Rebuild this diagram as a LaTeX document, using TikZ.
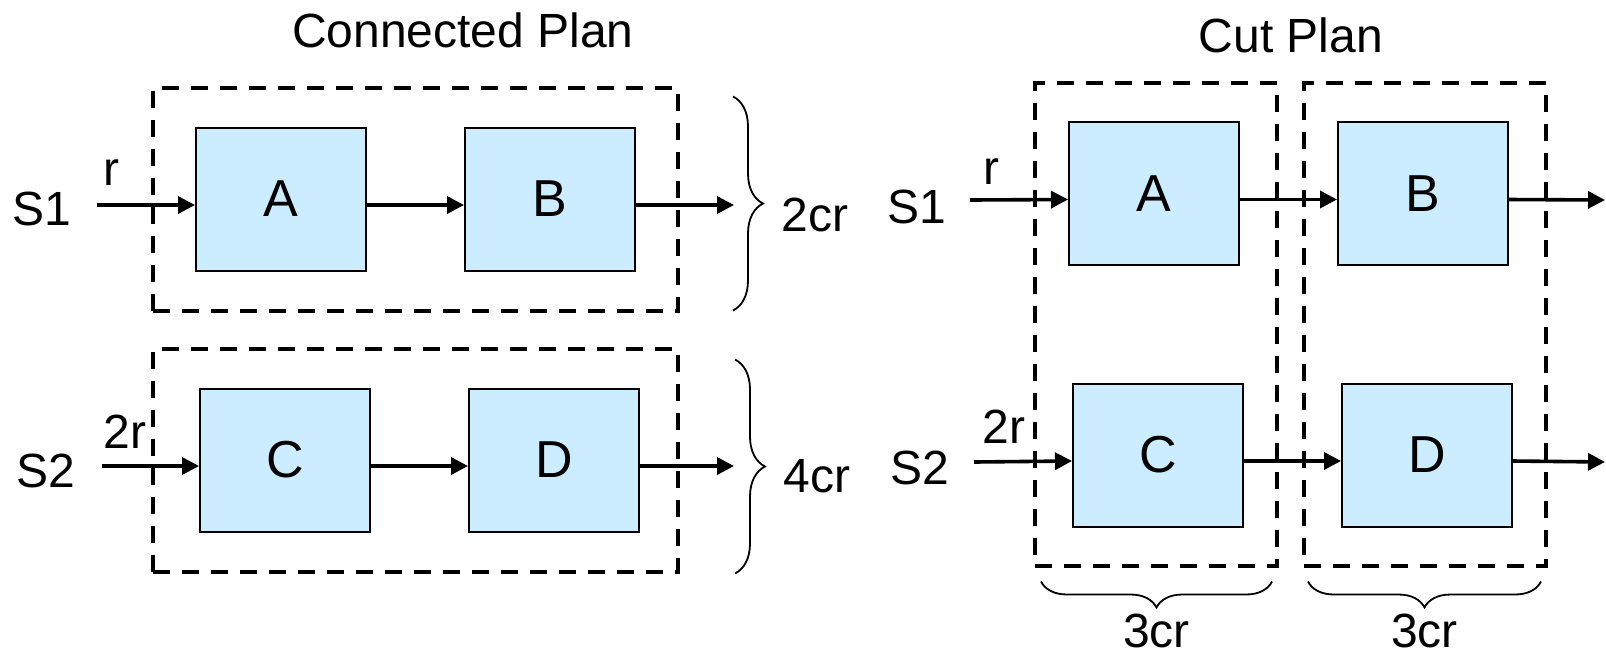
\documentclass[tikz,border=0pt]{standalone}
\usepackage{fontspec}
\setmainfont{Liberation Sans}
\usetikzlibrary{positioning, arrows.meta, fit, decorations.pathreplacing}

\definecolor{boxblue}{RGB}{204,236,255}

\begin{document}
\begin{tikzpicture}[x=0.5pt, y=-0.5pt, >={Triangle[length=8.5pt, width=8.5pt]},
	stage/.style={draw, fill=boxblue, line width=1pt, minimum width=85pt, minimum height=71.5pt, font=\fontsize{26}{31}\selectfont},
	plan/.style={draw, line width=2pt, dash pattern=on 8.5pt off 6pt},
	flow/.style={->, line width=1.8pt},
	lbl/.style={font=\fontsize{24}{29}\selectfont, inner sep=2pt},
	brc/.style={decorate, decoration={brace, amplitude=15pt}, line width=0.9pt}]
	
	\useasboundingbox (0,0) rectangle (1606,660);
	
	% Connected plan
	\node [lbl] (title1) at (463,30) {Connected Plan};
	\node [stage] (A1) at (281,199) {A};
	\node [stage] (B1) at (550,199) {B};
	\node [stage] (C1) at (285,460) {C};
	\node [stage] (D1) at (554,460) {D};
	\node [plan, fit=(A1)(B1), inner xsep=21pt, inner ysep=19.5pt] (conn1) {};
	\node [plan, fit=(C1)(D1), inner xsep=21pt, inner ysep=19.5pt, xshift=-2pt] (conn2) {};
	
	\node [lbl] (S1) at (42,209) {S1};
	\node [lbl] (S2) at (46,471) {S2};
	\node [lbl] (r1) at (111,173) {r};
	\node [lbl] (r2) at (125,432) {2r};
	\coordinate (in1) at (97,205);
	\coordinate (in2) at (102,466);
	\coordinate (out1) at (734,205);
	\coordinate (out2) at (734,466);
	
	\draw[flow] (in1) -- ([yshift=-3pt]A1.west);
	\draw[flow] ([yshift=-3pt]A1.east) -- ([yshift=-3pt]B1.west);
	\draw[flow] ([yshift=-3pt]B1.east) -- (out1);
	\draw[flow] (in2) -- ([yshift=-3pt]C1.west);
	\draw[flow] ([yshift=-3pt]C1.east) -- ([yshift=-3pt]D1.west);
	\draw[flow] ([yshift=-3pt]D1.east) -- (out2);
	
	% Braces with the cost of each plan
	\draw[brc] ([xshift=26.5pt, yshift=-5.5pt]conn1.north east) -- ([xshift=26.5pt, yshift=1pt]conn1.south east)
		node[lbl, midway, right=22pt, yshift=-5.5pt] {2cr};
	\draw[brc] ([xshift=27.5pt, yshift=-6.5pt]conn2.north east) -- ([xshift=27.5pt, yshift=0pt]conn2.south east)
		node[lbl, midway, right=22pt, yshift=-5pt] {4cr};
	
	% Cut plan
	\node [lbl] (title2) at (1291,35) {Cut Plan};
	\node [stage] (A2) at (1154,193.5) {A};
	\node [stage] (B2) at (1423,193.5) {B};
	\node [stage] (C2) at (1158,455) {C};
	\node [stage] (D2) at (1427,455) {D};
	\node [plan, fit=(A2)(C2), inner xsep=16.5pt, inner ysep=19pt] (cut1) {};
	\node [plan, fit=(B2)(D2), inner xsep=16.5pt, inner ysep=19pt] (cut2) {};
	
	\node [lbl] (S3) at (917,207) {S1};
	\node [lbl] (S4) at (920,468) {S2};
	\node [lbl] (r3) at (991,172) {r};
	\node [lbl] (r4) at (1004,427) {2r};
	\coordinate (in3) at (970,200);
	\coordinate (in4) at (974,462);
	\coordinate (out3) at (1605,200);
	\coordinate (out4) at (1605,462);
	
	\draw[flow] (in3) -- ([yshift=-3pt]A2.west);
	\draw[flow] ([yshift=-3pt]A2.east) -- ([yshift=-3pt]B2.west);
	\draw[flow] ([yshift=-3pt]B2.east) -- (out3);
	\draw[flow] (in4) -- ([yshift=-3pt]C2.west);
	\draw[flow] ([yshift=-3pt]C2.east) -- ([yshift=-3pt]D2.west);
	\draw[flow] ([yshift=-3pt]D2.east) -- (out4);
	
	\draw[brc, decoration={amplitude=13pt}] ([xshift=-3.5pt, yshift=-7pt]cut1.south east) -- ([xshift=4pt, yshift=-7pt]cut1.south west)
		node[lbl, midway, below=14pt] {3cr};
	\draw[brc, decoration={amplitude=13pt}] ([xshift=-3.5pt, yshift=-7pt]cut2.south east) -- ([xshift=3pt, yshift=-7pt]cut2.south west)
		node[lbl, midway, below=14pt] {3cr};
\end{tikzpicture}
\end{document}
